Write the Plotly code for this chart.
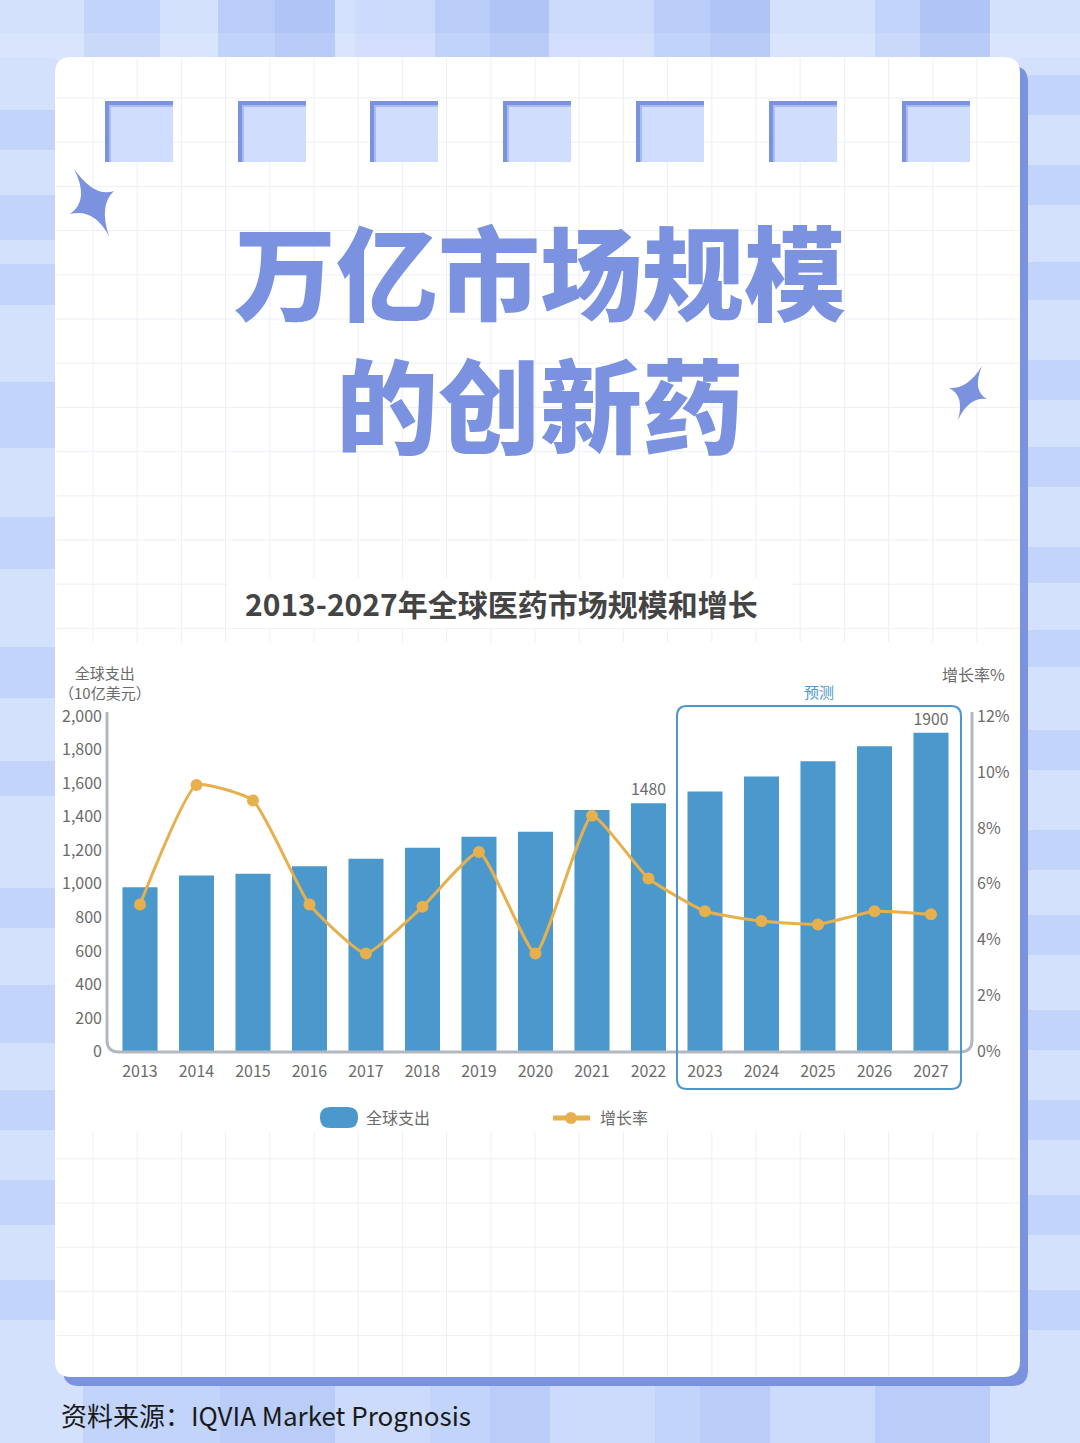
import plotly.graph_objects as go

W, H = 1080, 1443

# ---------------- data ----------------
years = ["2013", "2014", "2015", "2016", "2017", "2018", "2019", "2020",
         "2021", "2022", "2023", "2024", "2025", "2026", "2027"]
spending = [980, 1050, 1060, 1105, 1150, 1215, 1280, 1310,
            1440, 1480, 1550, 1640, 1730, 1820, 1900]
growth = [5.26, 9.53, 8.98, 5.26, 3.51, 5.18, 7.14, 3.51,
          8.43, 6.19, 5.02, 4.67, 4.55, 5.02, 4.91]
labeled_years = ["2022", "2027"]
left_tickvals = [0, 200, 400, 600, 800, 1000, 1200, 1400, 1600, 1800, 2000]
left_ticktext = ["0", "200", "400", "600", "800", "1,000", "1,200", "1,400",
                 "1,600", "1,800", "2,000"]
right_tickvals = [0, 2, 4, 6, 8, 10, 12]
right_ticktext = ["0%", "2%", "4%", "6%", "8%", "10%", "12%"]

title_lines = ["万亿市场规模", "的创新药"]
chart_title = "2013-2027年全球医药市场规模和增长"
left_axis_title = ["全球支出", "（10亿美元）"]
right_axis_title = "增长率%"
forecast_label = "预测"
legend_names = ["全球支出", "增长率"]
source_text = "资料来源：IQVIA Market Prognosis"

FONT = "Noto Sans CJK SC"
BAR_C = "#4b98cc"
LINE_C = "#e6b04e"
TXT_C = "#6b6b6b"
ACCENT = "#7b93df"


def X(x):
    return x / W


def Y(y):
    return 1 - y / H


def rrect_path(x0, y0, x1, y1, r):
    pts = [
        f"M {X(x0 + r)},{Y(y0)}",
        f"L {X(x1 - r)},{Y(y0)}",
        f"Q {X(x1)},{Y(y0)} {X(x1)},{Y(y0 + r)}",
        f"L {X(x1)},{Y(y1 - r)}",
        f"Q {X(x1)},{Y(y1)} {X(x1 - r)},{Y(y1)}",
        f"L {X(x0 + r)},{Y(y1)}",
        f"Q {X(x0)},{Y(y1)} {X(x0)},{Y(y1 - r)}",
        f"L {X(x0)},{Y(y0 + r)}",
        f"Q {X(x0)},{Y(y0)} {X(x0 + r)},{Y(y0)}",
        "Z",
    ]
    return " ".join(pts)


shapes = []


def rect(x0, y0, x1, y1, color, layer="below"):
    shapes.append(dict(type="rect", xref="paper", yref="paper",
                       x0=X(x0), x1=X(x1), y0=Y(y1), y1=Y(y0),
                       fillcolor=color, line=dict(width=0), layer=layer))


def line(x0, y0, x1, y1, color, width=1, layer="below"):
    shapes.append(dict(type="line", xref="paper", yref="paper",
                       x0=X(x0), x1=X(x1), y0=Y(y0), y1=Y(y1),
                       line=dict(color=color, width=width), layer=layer))


# ---------------- background stripes ----------------
L1, L2, M1, D1, D2 = "#d4e1fd", "#ccdafc", "#c3d4fa", "#b9cdf8", "#b0c5f6"
top_stripes = [(0, 84, L1), (84, 160, M1), (160, 218, L1), (218, 275, D1),
               (275, 335, D2), (335, 355, L1), (355, 435, L2), (435, 490, D1),
               (490, 549, D2), (549, 654, L2), (654, 710, D1), (710, 770, D2),
               (770, 790, L1), (790, 875, L1), (875, 920, M1), (920, 990, D2),
               (990, 1080, L1)]
for x0, x1, c in top_stripes:
    rect(x0, 0, x1, 60, c)
rect(0, 33, 1080, 60, "rgba(255,255,255,0.12)")

bottom_stripes = [(0, 83, L1), (83, 220, M1), (220, 275, D1), (275, 335, D1),
                  (335, 430, L2), (430, 490, M1), (490, 550, D1), (550, 655, L2),
                  (655, 700, M1), (700, 770, D1), (770, 875, L2), (875, 990, D1),
                  (990, 1080, L1)]
for x0, x1, c in bottom_stripes:
    rect(x0, 1380, x1, 1443, c)

side_dark_right = [(75, 115), (165, 205), (262, 300), (360, 400), (447, 487),
                   (547, 583), (630, 667), (730, 770), (830, 870), (915, 955),
                   (1010, 1050), (1100, 1140), (1195, 1235), (1290, 1330)]
rect(1020, 57, 1080, 1385, L1)
for y0, y1 in side_dark_right:
    rect(1028, y0, 1080, y1, M1)
side_dark_left = [(110, 150), (195, 240), (264, 305), (382, 448), (517, 569),
                  (647, 698), (761, 796), (888, 928), (985, 1043), (1090, 1130),
                  (1180, 1225), (1280, 1320)]
rect(0, 57, 55, 1385, L1)
for y0, y1 in side_dark_left:
    rect(0, y0, 55, y1, M1)

# ---------------- card ----------------
shapes.append(dict(type="path", xref="paper", yref="paper",
                   path=rrect_path(63, 66, 1028, 1386, 16),
                   fillcolor=ACCENT, line=dict(width=0), layer="below"))
shapes.append(dict(type="path", xref="paper", yref="paper",
                   path=rrect_path(55, 57, 1020, 1377, 16),
                   fillcolor="#ffffff", line=dict(width=0), layer="below"))

# grid lines in card
GRID_C = "#eceff5"
gx = 93.0
while gx < 1018:
    line(gx, 58, gx, 1376, GRID_C, 1)
    gx += 44.2
gy = 98.0
while gy < 1375:
    line(56, gy, 1019, gy, GRID_C, 1)
    gy += 44.2

# white panels (chart area, title band)
rect(56, 642, 1019, 1132, "#ffffff")
rect(228, 578, 792, 628, "#ffffff")

# decorative squares
for sx in [105, 238, 370, 503, 636, 769, 902]:
    rect(sx, 101, sx + 68, 162, ACCENT)
    rect(sx + 4, 105, sx + 68, 162, "#a9bcf2")
    rect(sx + 6, 107, sx + 68, 162, "#d0ddfc")


# stars
def star_path(pts, c, k=0.22):
    cx, cy = c
    s = f"M {X(pts[0][0])},{Y(pts[0][1])}"
    for i in range(4):
        p1 = pts[i]
        p2 = pts[(i + 1) % 4]
        mx, my = (p1[0] + p2[0]) / 2, (p1[1] + p2[1]) / 2
        qx, qy = cx + k * (mx - cx), cy + k * (my - cy)
        s += f" Q {X(qx)},{Y(qy)} {X(p2[0])},{Y(p2[1])}"
    return s + " Z"


shapes.append(dict(type="path", xref="paper", yref="paper",
                   path=star_path([(74, 169), (114, 191), (109, 236), (70, 214)], (95, 203)),
                   fillcolor=ACCENT, line=dict(width=0), layer="below"))
shapes.append(dict(type="path", xref="paper", yref="paper",
                   path=star_path([(982, 366), (987, 399), (958, 420), (949, 388)], (968, 393)),
                   fillcolor=ACCENT, line=dict(width=0), layer="below"))

# axis frame (rounded bottom corners)
AX_C = "#b3b7bf"
r = 12
axis_path = (f"M {X(107)},{Y(712)} L {X(107)},{Y(1052 - r)} "
             f"Q {X(107)},{Y(1052)} {X(107 + r)},{Y(1052)} "
             f"L {X(972 - r)},{Y(1052)} Q {X(972)},{Y(1052)} {X(972)},{Y(1052 - r)} "
             f"L {X(972)},{Y(712)}")
shapes.append(dict(type="path", xref="paper", yref="paper", path=axis_path,
                   line=dict(color=AX_C, width=3), layer="above"))

# forecast box
shapes.append(dict(type="path", xref="paper", yref="paper",
                   path=rrect_path(677, 706, 961, 1089, 10),
                   line=dict(color=BAR_C, width=2), layer="above"))

# legend icons
shapes.append(dict(type="path", xref="paper", yref="paper",
                   path=rrect_path(320, 1107, 358, 1128, 10),
                   fillcolor=BAR_C, line=dict(width=0), layer="above"))
line(553, 1118, 590, 1118, LINE_C, 5, layer="above")
shapes.append(dict(type="circle", xref="paper", yref="paper",
                   x0=X(565), x1=X(577), y0=Y(1124), y1=Y(1112),
                   fillcolor=LINE_C, line=dict(width=0), layer="above"))

# ---------------- traces ----------------
bar_text = [str(v) if yr in labeled_years else "" for yr, v in zip(years, spending)]

fig = go.Figure()
fig.add_trace(go.Bar(
    x=years, y=spending, name=legend_names[0],
    marker=dict(color=BAR_C, line=dict(width=0)),
    width=0.62,
    text=bar_text, textposition="outside",
    textfont=dict(family=FONT, size=16, color=TXT_C),
    cliponaxis=False, hoverinfo="x+y",
))
fig.add_trace(go.Scatter(
    x=years, y=growth, yaxis="y2", name=legend_names[1],
    mode="lines+markers",
    line=dict(color=LINE_C, width=3, shape="spline", smoothing=0.45),
    marker=dict(color=LINE_C, size=12),
    cliponaxis=False,
))

# ---------------- annotations ----------------
ann = []


def text(x, y, s, size, color, xanchor="center", weight=None, family=FONT):
    f = dict(family=family, size=size, color=color)
    if weight:
        f["weight"] = weight
    ann.append(dict(xref="paper", yref="paper", x=X(x), y=Y(y), text=s,
                    showarrow=False, xanchor=xanchor, yanchor="middle", font=f))


text(540, 335, "<br>".join(title_lines), 102, "#7a92e0", weight=900)
text(501, 603, chart_title, 30, "#444444", weight=700)
text(105, 682, "<br>".join(left_axis_title), 15, TXT_C)
text(973, 674, right_axis_title, 16, TXT_C)
text(819, 692, forecast_label, 15, BAR_C)
text(364, 1117, legend_names[0], 16, TXT_C, xanchor="left")
text(598, 1117, legend_names[1], 16, TXT_C, xanchor="left")
text(59, 1414, source_text, 26, "#1a1a1a", xanchor="left")

axis_common = dict(showgrid=False, zeroline=False, showline=False, ticks="",
                   automargin=False, fixedrange=True,
                   tickfont=dict(family=FONT, size=16, color=TXT_C))

fig.update_layout(
    width=W, height=H,
    autosize=False,
    margin=dict(l=0, r=0, t=0, b=0, pad=0, autoexpand=False),
    paper_bgcolor=L1, plot_bgcolor="rgba(0,0,0,0)",
    showlegend=False,
    font=dict(family=FONT, color=TXT_C),
    shapes=shapes, annotations=ann,
    xaxis=dict(domain=[X(107), X(972)], type="category",
               range=[-0.584, 14.726], ticklabelstandoff=8, **axis_common),
    yaxis=dict(domain=[Y(1051.7), Y(716)], range=[0, 2000],
               tickvals=left_tickvals, ticktext=left_ticktext,
               ticklabelstandoff=4, **axis_common),
    yaxis2=dict(domain=[Y(1051.7), Y(716)], range=[0, 12], overlaying="y",
                side="right", anchor="x",
                tickvals=right_tickvals, ticktext=right_ticktext,
                ticklabelstandoff=4, **axis_common),
)

fig.write_html("out.html")
